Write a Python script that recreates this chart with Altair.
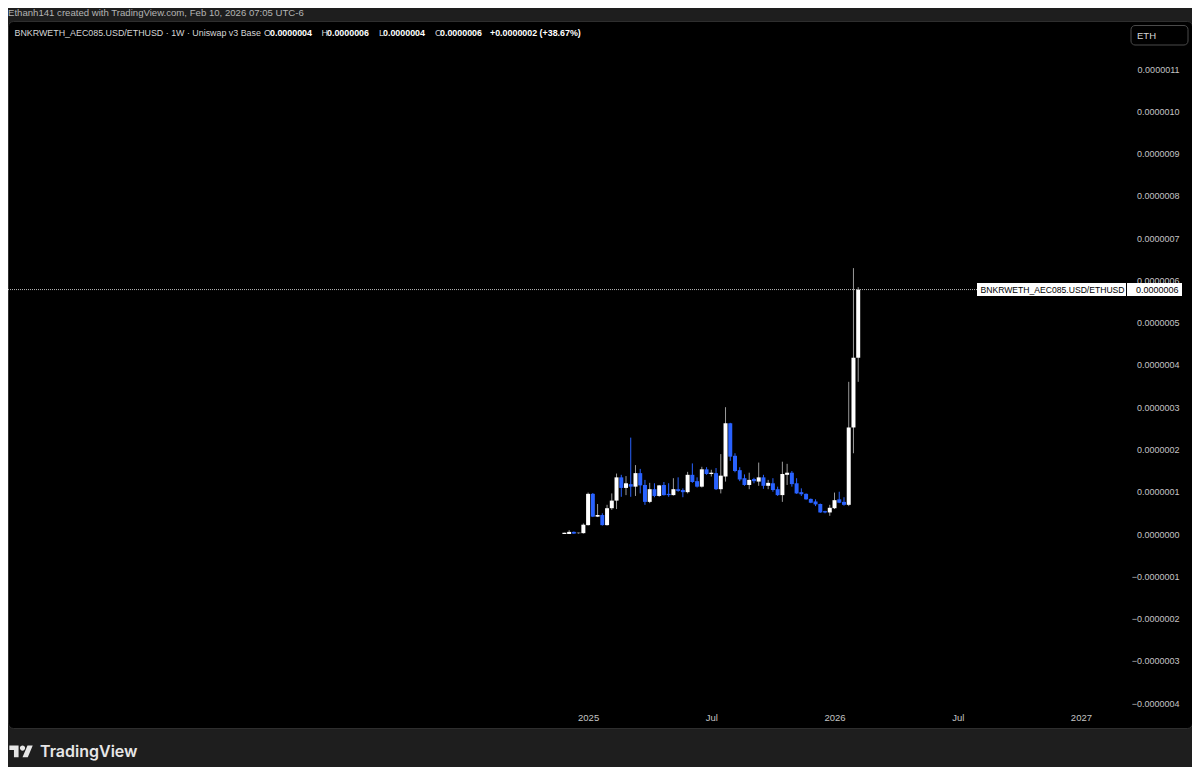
import altair as alt
import pandas as pd

# ---------------- data (prices in units of 1e-7 ETH) ----------------
UNIT = 1e-7
FIRST_WEEK = "2024-12-02"
OPEN = [0.00, 0.00, 0.05, 0.02, 0.02, 0.21, 0.95, 0.41, 0.45, 0.21,
        0.61, 0.79, 1.34, 1.09, 1.18, 1.12, 1.44, 1.16, 0.76, 1.06,
        0.90, 1.16, 0.95, 0.92, 1.06, 1.04, 0.99, 1.40, 1.25, 1.12,
        1.53, 1.42, 1.44, 1.06, 1.36, 2.62, 1.85, 1.51, 1.32, 1.16,
        1.30, 1.24, 1.34, 1.14, 1.20, 1.06, 0.92, 1.40, 1.45, 1.20,
        0.99, 0.95, 0.83, 0.77, 0.71, 0.54, 0.51, 0.61, 0.82, 0.76,
        0.69, 2.52, 4.17]
HIGH = [0.03, 0.09, 0.06, 0.03, 0.25, 0.98, 0.97, 0.71, 0.49, 0.69,
        0.96, 1.43, 1.40, 1.37, 2.28, 1.63, 1.54, 1.28, 1.21, 1.20,
        1.16, 1.23, 1.20, 1.32, 1.34, 1.08, 1.47, 1.67, 1.34, 1.59,
        1.58, 1.52, 1.56, 1.89, 3.00, 2.63, 1.91, 1.58, 1.41, 1.45,
        1.33, 1.69, 1.40, 1.28, 1.32, 1.12, 1.71, 1.66, 1.49, 1.32,
        1.08, 0.96, 0.84, 0.82, 0.72, 0.55, 0.69, 0.98, 1.00, 0.87,
        3.60, 6.29, 5.84]
LOW = [0.00, 0.00, 0.00, 0.01, 0.01, 0.20, 0.40, 0.40, 0.20, 0.20,
       0.57, 0.59, 0.88, 0.92, 0.88, 0.90, 0.96, 0.69, 0.73, 0.87,
       0.88, 0.91, 0.88, 0.91, 1.00, 0.87, 0.96, 1.21, 1.10, 1.10,
       1.40, 1.36, 1.04, 0.96, 1.24, 1.73, 1.46, 1.25, 1.14, 1.06,
       1.20, 1.14, 1.07, 1.06, 1.00, 0.90, 0.76, 1.16, 1.12, 0.95,
       0.90, 0.81, 0.73, 0.66, 0.50, 0.49, 0.43, 0.59, 0.73, 0.67,
       0.66, 1.91, 3.60]
CLOSE = [0.03, 0.05, 0.01, 0.03, 0.22, 0.95, 0.41, 0.45, 0.21, 0.61,
         0.79, 1.34, 1.09, 1.20, 1.12, 1.44, 1.15, 0.76, 1.06, 0.90,
         1.15, 0.92, 0.92, 1.06, 1.02, 0.99, 1.40, 1.23, 1.12, 1.53,
         1.42, 1.45, 1.06, 1.38, 2.62, 1.83, 1.49, 1.29, 1.16, 1.28,
         1.25, 1.34, 1.14, 1.21, 1.04, 0.92, 1.42, 1.45, 1.18, 0.96,
         0.94, 0.82, 0.74, 0.70, 0.51, 0.51, 0.62, 0.80, 0.74, 0.69,
         2.52, 4.17, 5.7825]

Y_TICKS = list(range(-4, 12))            # axis ticks, in 1e-7 units
X_TICKS = ["2025-01-06", "2025-07-07", "2026-01-05", "2026-07-06", "2027-01-04"]
SYMBOL = "BNKRWETH_AEC085.USD/ETHUSD"
HEADER = "Ethanh141 created with TradingView.com, Feb 10, 2026 07:05 UTC-6"
LEGEND_NAME = "BNKRWETH_AEC085.USD/ETHUSD · 1W · Uniswap v3 Base"

# ---------------- styling ----------------
FONT = "Liberation Sans"
BG = "#1e1e1e"
UP, DOWN = "#ffffff", "#2962ff"
UP_WICK, DOWN_WICK = "#9a9a9a", "#2962ff"
LABEL = "#c4c4c4"

EPOCH = pd.Timestamp("1970-01-01")
def ms(ts):
    return int((pd.Timestamp(ts) - EPOCH) / pd.Timedelta(milliseconds=1))

dates = pd.date_range(FIRST_WEEK, periods=len(OPEN), freq="7D")
df = pd.DataFrame({
    "t": [ms(d) for d in dates],
    "open": [v * UNIT for v in OPEN],
    "high": [v * UNIT for v in HIGH],
    "low": [v * UNIT for v in LOW],
    "close": [v * UNIT for v in CLOSE],
})
last = df.tail(1).copy()

# scales (view: width 1184 px, height 707 px)
PX_PER_DAY = 4.779 / 7.0
ANCHOR = ms("2025-01-06")      # sits 580 px from the view's left edge
DAY = 86400000
x_scale = alt.Scale(type="utc", domain=[ANCHOR - 580 / PX_PER_DAY * DAY,
                                        ANCHOR + 604 / PX_PER_DAY * DAY])
PX_PER_UNIT = 42.27
ZERO_PX = 513.0
y_scale = alt.Scale(domain=[(ZERO_PX - 707) / PX_PER_UNIT * UNIT,
                            ZERO_PX / PX_PER_UNIT * UNIT],
                    nice=False, zero=False)

x_axis = alt.Axis(values=[ms(v) for v in X_TICKS], orient="bottom", offset=-11,
                  labelExpr="utcFormat(datum.value, '%m') == '01' ? utcFormat(datum.value, '%Y') : utcFormat(datum.value, '%b')",
                  domain=False, ticks=False, tickSize=0, grid=False, labelPadding=0,
                  labelBaseline="middle", labelColor=LABEL, labelFontSize=9.5,
                  labelFont=FONT, title=None, labelOverlap=False, labelFlush=False)
y_axis = alt.Axis(values=[v * UNIT for v in Y_TICKS], orient="right", offset=-13,
                  format=".7f", domain=False, ticks=False, tickSize=0, grid=False,
                  labelPadding=0, labelAlign="right", labelColor=LABEL,
                  labelFontSize=9.0, labelFont=FONT, title=None,
                  labelOverlap=False, labelBound=False)

X = alt.X("t:T", scale=x_scale, axis=x_axis)
IS_UP = "datum.close >= datum.open"

wicks = alt.Chart(df).mark_rule(strokeWidth=1).encode(
    x=X, y=alt.Y("low:Q", scale=y_scale, axis=y_axis), y2="high:Q",
    color=alt.condition(IS_UP, alt.value(UP_WICK), alt.value(DOWN_WICK)))
bodies = alt.Chart(df).mark_bar(size=4).encode(
    x=X, y=alt.Y("open:Q", scale=y_scale, axis=y_axis), y2="close:Q",
    color=alt.condition(IS_UP, alt.value(UP), alt.value(DOWN)))

price_line = alt.Chart(last).mark_rule(strokeDash=[1, 1], color="#b8b8b8", strokeWidth=1).encode(
    y=alt.Y("close:Q", scale=y_scale, axis=y_axis), x=alt.value(0), x2=alt.value(969))
box1 = alt.Chart(last).mark_rect(color="#ffffff", yOffset=-6.5, y2Offset=6.5).encode(
    y=alt.Y("close:Q", scale=y_scale, axis=y_axis), y2="close:Q",
    x=alt.value(969), x2=alt.value(1118))
box2 = alt.Chart(last).mark_rect(color="#ffffff", yOffset=-6.5, y2Offset=6.5).encode(
    y=alt.Y("close:Q", scale=y_scale, axis=y_axis), y2="close:Q",
    x=alt.value(1119), x2=alt.value(1174))
box1_txt = alt.Chart(last).mark_text(text=SYMBOL, align="left", baseline="middle",
                                     font=FONT, fontSize=8.6, color="#000000").encode(
    y=alt.Y("close:Q", scale=y_scale, axis=y_axis), x=alt.value(972.5))
box2_txt = alt.Chart(last).mark_text(align="right", baseline="middle",
                                     font=FONT, fontSize=9.0, color="#000000").encode(
    y=alt.Y("close:Q", scale=y_scale, axis=y_axis), x=alt.value(1170.5),
    text=alt.Text("close:Q", format=".7f"))

one = pd.DataFrame({"k": [0]})
def txt(s, x, y, color=LABEL, size=9.5, weight="normal", align="left", font=FONT):
    return alt.Chart(one).mark_text(text=s, align=align, baseline="middle", font=font,
                                    fontSize=size, fontWeight=weight, color=color).encode(
        x=alt.value(x), y=alt.value(y))

o, h, l, c = OPEN[-1] * UNIT, HIGH[-1] * UNIT, LOW[-1] * UNIT, CLOSE[-1] * UNIT
chg = c - o
pct = (CLOSE[-1] - OPEN[-1]) / OPEN[-1] * 100

LS = 8.9
legend = [
    txt(HEADER, 0, -8, color="#b4b4b4", size=9.6),
    txt(LEGEND_NAME, 6.5, 12, color="#d6d6d6", size=LS),
    txt("O", 256, 12, color="#d6d6d6", size=LS),
    txt(f"{o:.7f}", 262, 12, color="#ffffff", size=LS, weight="bold"),
    txt("H", 313.5, 12, color="#d6d6d6", size=LS),
    txt(f"{h:.7f}", 319, 12, color="#ffffff", size=LS, weight="bold"),
    txt("L", 371, 12, color="#d6d6d6", size=LS),
    txt(f"{l:.7f}", 375, 12, color="#ffffff", size=LS, weight="bold"),
    txt("C", 427, 12, color="#d6d6d6", size=LS),
    txt(f"{c:.7f}", 432, 12, color="#ffffff", size=LS, weight="bold"),
    txt(f"{chg:+.7f} ({pct:+.2f}%)", 482, 12, color="#ffffff", size=LS, weight="bold"),
]

eth_box = alt.Chart(one).mark_rect(fill="#000000", stroke="#4a4a4a", strokeWidth=1,
                                   cornerRadius=4).encode(
    x=alt.value(1123), x2=alt.value(1180), y=alt.value(4.5), y2=alt.value(24))
eth_txt = txt("ETH", 1129, 14.5, color="#d6d6d6", size=9.5)

LOGO = ("M-0.222,0.444 L-0.611,0.444 L-0.611,-0.167 L-1,-0.167 L-1,-0.556 L-0.222,-0.556 Z "
        "M0.556,0.444 L0.111,0.444 L0.528,-0.556 L0.972,-0.556 Z "
        "M0.333,-0.333 A0.222,0.222 0 1 1 -0.111,-0.333 A0.222,0.222 0 1 1 0.333,-0.333 Z")
logo = alt.Chart(one).mark_point(shape=LOGO, filled=True, size=563, color="#e6e6e6",
                                 opacity=1).encode(x=alt.value(13.2), y=alt.value(731))
logo_txt = txt("TradingView", 32, 731, color="#e6e6e6", size=16, weight=600, font="Inter")

chart = alt.layer(
    wicks, bodies, price_line, box1, box2, box1_txt, box2_txt,
    *legend, eth_box, eth_txt, logo, logo_txt
).properties(
    width=1184, height=707,
    padding={"left": 0, "top": 13, "right": 0, "bottom": 39},
    autosize=alt.AutoSizeParams(type="none"),
    background=BG,
).configure_view(fill="#000000", stroke="#2e2e2e", cornerRadius=5)

chart.save("out.html", embed_options={"renderer": "svg", "actions": False})
